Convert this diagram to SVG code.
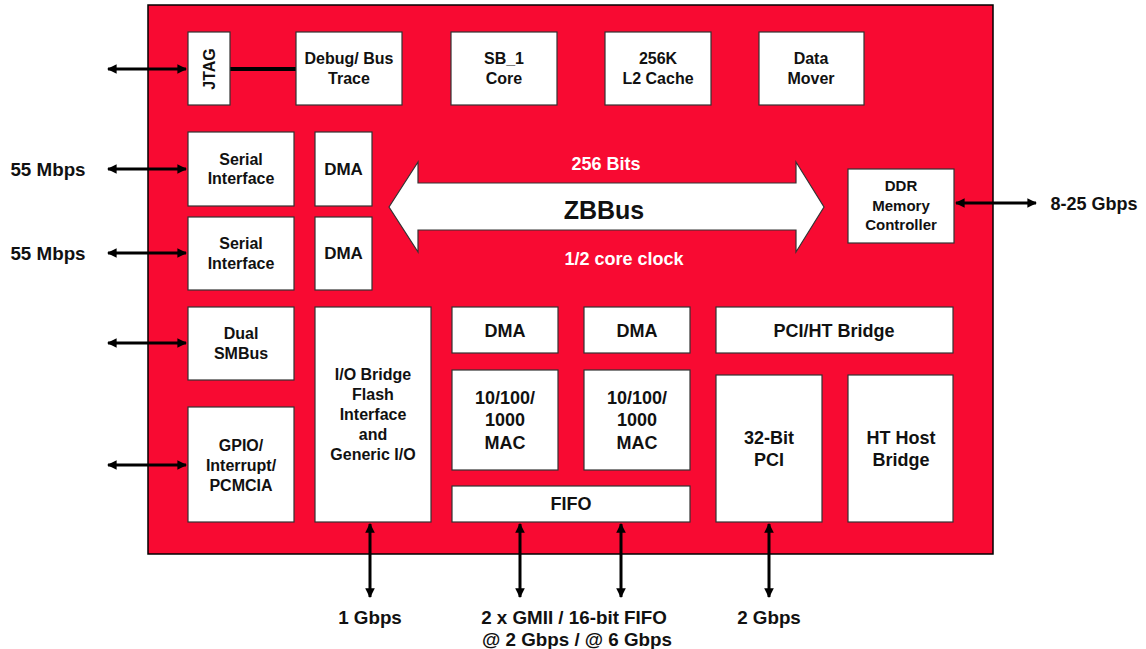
<svg xmlns="http://www.w3.org/2000/svg" width="1146" height="649" viewBox="0 0 1146 649">
<style>
.box{fill:#fff;stroke:#333;stroke-width:1.2}
.t{font-family:"Liberation Sans",Arial,Helvetica,sans-serif;font-weight:bold;text-anchor:middle;fill:#111}
.s16{font-size:16px}
.s15{font-size:15px}
.s18{font-size:18px}
.lb{font-size:18.8px}
.w{fill:#fff}
.conn{stroke:#000;stroke-width:3;fill:none}
</style>
<defs>
<marker id="ah" viewBox="0 0 10 10" refX="9" refY="5" markerWidth="3.2" markerHeight="3.2" orient="auto-start-reverse" markerUnits="strokeWidth">
<path d="M0,0 L10,5 L0,10 z" fill="#000"/>
</marker>
</defs>
<rect width="1146" height="649" fill="#fff"/>
<g id="chip">
<rect x="148" y="5" width="845" height="549" fill="#F80A32" stroke="#000" stroke-width="1.5"/>
</g>
<g id="connectors">
<line class="conn" x1="108" y1="69" x2="186" y2="69" marker-start="url(#ah)" marker-end="url(#ah)"/>
<line x1="230" y1="69" x2="296" y2="69" stroke="#000" stroke-width="4"/>
<line class="conn" x1="108" y1="169" x2="186" y2="169" marker-start="url(#ah)" marker-end="url(#ah)"/>
<line class="conn" x1="108" y1="253" x2="186" y2="253" marker-start="url(#ah)" marker-end="url(#ah)"/>
<line class="conn" x1="108" y1="343" x2="186" y2="343" marker-start="url(#ah)" marker-end="url(#ah)"/>
<line class="conn" x1="108" y1="465" x2="186" y2="465" marker-start="url(#ah)" marker-end="url(#ah)"/>
<line class="conn" x1="956" y1="203" x2="1036" y2="203" marker-start="url(#ah)" marker-end="url(#ah)"/>
<line class="conn" x1="370" y1="524" x2="370" y2="597" marker-start="url(#ah)" marker-end="url(#ah)"/>
<line class="conn" x1="520" y1="524" x2="520" y2="597" marker-start="url(#ah)" marker-end="url(#ah)"/>
<line class="conn" x1="621" y1="524" x2="621" y2="597" marker-start="url(#ah)" marker-end="url(#ah)"/>
<line class="conn" x1="769" y1="524" x2="769" y2="597" marker-start="url(#ah)" marker-end="url(#ah)"/>
</g>
<g id="zbbus">
<path d="M389,207 L418,162 L418,183 L796,183 L796,162 L824,207 L796,252 L796,230 L418,230 L418,252 Z" fill="#fff" stroke="#333" stroke-width="1.2"/>
<text class="t s18 w" x="606" y="169.5">256 Bits</text>
<text class="t" x="604" y="219" style="font-size:25px">ZBBus</text>
<text class="t s18 w" x="624" y="264.5">1/2 core clock</text>
</g>
<g id="jtag"><rect class="box" x="188" y="32" width="42" height="73"/>
<text class="t s16" transform="translate(209,69) rotate(-90)" x="0" y="6">JTAG</text></g>
<g id="debug"><rect class="box" x="296" y="32" width="106" height="73"/>
<text class="t s16" x="349" y="63.5">Debug/ Bus</text><text class="t s16" x="349" y="83.5">Trace</text></g>
<g id="sb1"><rect class="box" x="451" y="32" width="106" height="73"/>
<text class="t s16" x="504" y="63.5">SB_1</text><text class="t s16" x="504" y="83.5">Core</text></g>
<g id="l2"><rect class="box" x="605" y="32" width="106" height="73"/>
<text class="t s16" x="658" y="63.5">256K</text><text class="t s16" x="658" y="83.5">L2 Cache</text></g>
<g id="datamover"><rect class="box" x="759" y="32" width="105" height="73"/>
<text class="t s16" x="811" y="63.5">Data</text><text class="t s16" x="811" y="83.5">Mover</text></g>
<g id="serial1"><rect class="box" x="188" y="132" width="106" height="74"/>
<text class="t s16" x="241" y="164.5">Serial</text><text class="t s16" x="241" y="183.5">Interface</text></g>
<g id="serial2"><rect class="box" x="188" y="217" width="106" height="73"/>
<text class="t s16" x="241" y="248.5">Serial</text><text class="t s16" x="241" y="268.5">Interface</text></g>
<g id="dma1"><rect class="box" x="315" y="132" width="57" height="74"/>
<text class="t" x="343.5" y="175" style="font-size:17px">DMA</text></g>
<g id="dma2"><rect class="box" x="315" y="217" width="57" height="73"/>
<text class="t" x="343.5" y="259" style="font-size:17px">DMA</text></g>
<g id="smbus"><rect class="box" x="188" y="307" width="106" height="73"/>
<text class="t s16" x="241" y="338.5">Dual</text><text class="t s16" x="241" y="358.5">SMBus</text></g>
<g id="gpio"><rect class="box" x="188" y="407" width="106" height="115"/>
<text class="t s16" x="241" y="450.5">GPIO/</text><text class="t s16" x="241" y="470.5">Interrupt/</text><text class="t s16" x="241" y="490.5">PCMCIA</text></g>
<g id="iobridge"><rect class="box" x="315" y="307" width="116" height="215"/>
<text class="t s16" x="373" y="379.5">I/O Bridge</text><text class="t s16" x="373" y="399.5">Flash</text><text class="t s16" x="373" y="419.5">Interface</text><text class="t s16" x="373" y="439.5">and</text><text class="t s16" x="373" y="459.5">Generic I/O</text></g>
<g id="dma3"><rect class="box" x="452" y="307" width="106" height="46"/>
<text class="t s18" x="505" y="336.5">DMA</text></g>
<g id="dma4"><rect class="box" x="584" y="307" width="106" height="46"/>
<text class="t s18" x="637" y="336.5">DMA</text></g>
<g id="mac1"><rect class="box" x="452" y="370" width="106" height="100"/>
<text class="t s18" x="505" y="404">10/100/</text><text class="t s18" x="505" y="426">1000</text><text class="t s18" x="505" y="449">MAC</text></g>
<g id="mac2"><rect class="box" x="584" y="370" width="106" height="100"/>
<text class="t s18" x="637" y="404">10/100/</text><text class="t s18" x="637" y="426">1000</text><text class="t s18" x="637" y="449">MAC</text></g>
<g id="fifo"><rect class="box" x="452" y="486" width="238" height="36"/>
<text class="t s18" x="571" y="510">FIFO</text></g>
<g id="pciht"><rect class="box" x="716" y="307" width="237" height="46"/>
<text class="t s18" x="834" y="336.5">PCI/HT Bridge</text></g>
<g id="pci32"><rect class="box" x="716" y="375" width="106" height="147"/>
<text class="t s18" x="769" y="444">32-Bit</text><text class="t s18" x="769" y="466">PCI</text></g>
<g id="hthost"><rect class="box" x="848" y="375" width="105" height="147"/>
<text class="t s18" x="901" y="444">HT Host</text><text class="t s18" x="901" y="466">Bridge</text></g>
<g id="ddr"><rect class="box" x="848" y="169" width="106" height="74"/>
<text class="t s15" x="901" y="191">DDR</text><text class="t s15" x="901" y="210.5">Memory</text><text class="t s15" x="901" y="230">Controller</text></g>
<g id="labels">
<text class="t lb" x="48" y="175.5">55 Mbps</text>
<text class="t lb" x="48" y="259.5">55 Mbps</text>
<text class="t" x="1094" y="209.5" style="font-size:18px">8-25 Gbps</text>
<text class="t lb" x="370" y="623.5">1 Gbps</text>
<text class="t lb" x="574" y="623.5">2 x GMII / 16-bit FIFO</text>
<text class="t lb" x="577" y="645.5">@ 2 Gbps / @ 6 Gbps</text>
<text class="t lb" x="769" y="623.5">2 Gbps</text>
</g>
</svg>
